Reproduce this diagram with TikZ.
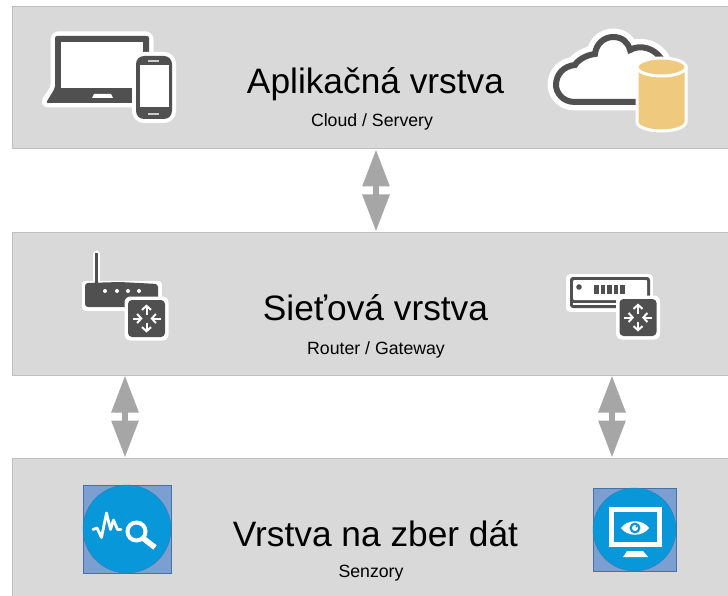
\documentclass[tikz,border=0pt]{standalone}
\usepackage{fontspec}
\setmainfont{Liberation Sans}
\usetikzlibrary{arrows.meta}
\definecolor{layerfill}{HTML}{D9D9D9}
\definecolor{layerline}{HTML}{BFBFBF}
\definecolor{linkgray}{HTML}{A6A6A6}
\definecolor{icondark}{HTML}{505050}
\definecolor{dbfill}{HTML}{EFC97E}
\definecolor{sensorblue}{HTML}{0897D8}
\definecolor{sensorsq}{HTML}{7B9FD0}
\definecolor{sensorline}{HTML}{4472A8}
\tikzset{
    layer/.style={draw=layerline, fill=layerfill, line width=1pt, minimum width=718pt, minimum height=142pt},
    title/.style={font=\fontsize{35.3}{40}\selectfont, inner sep=0pt},
    subtitle/.style={font=\fontsize{17.7}{20}\selectfont, inner sep=0pt},
    link/.style={{Triangle[length=37pt,width=26pt]}-{Triangle[length=37pt,width=26pt]}, draw=linkgray, line width=6pt},
    halo/.style={draw=white, line width=9pt, line join=round},
    badgearrow/.style={-{Straight Barb[length=4pt,width=9pt]}, draw=white, line width=2pt},
}
\begin{document}
\begin{tikzpicture}[x=1pt,y=-1pt]
    \useasboundingbox (0,0) rectangle (728,596);

    \node (app) [layer] at (371,78) {};
    \node (net) [layer, minimum height=143pt] at (371,303.5) {};
    \node (sense) [layer] at (371,529) {};

    \node (apptitle) [title] at (375.5,84) {Aplikačná vrstva};
    \node (appsub) [subtitle] at (372,122) {Cloud / Servery};
    \node (nettitle) [title] at (375.5,308) {Sieťová vrstva};
    \node (netsub) [subtitle] at (376,350) {Router / Gateway};
    \node (sensetitle) [title] at (375.5,534) {Vrstva na zber dát};
    \node (sensesub) [subtitle] at (371,573) {Senzory};

    \coordinate (midlink) at (376,0);
    \coordinate (leftlink) at (125,0);
    \coordinate (rightlink) at (612,0);
    \draw[link] (app.south -| midlink) -- (net.north -| midlink);
    \draw[link] (net.south -| leftlink) -- (sense.north -| leftlink);
    \draw[link] (net.south -| rightlink) -- (sense.north -| rightlink);

    % laptop
    \draw[halo] (55,88) -- (55,39) [rounded corners=3pt] -- (55,36) -- (149,36) -- (149,88) -- (155,103) -- (45,103) -- (55,88) -- cycle;
    \fill[icondark, rounded corners=2pt] (55,88) -- (55,36) -- (149,36) -- (149,88) -- (155,103) -- (46,103) -- cycle;
    \fill[white] (61,42) rectangle (143,88);
    \fill[white] (94,94) -- (111,94) -- (113,98) -- (92,98) -- cycle;

    % phone
    \draw[white, line width=8pt, fill=white, rounded corners=8pt] (136,56) rectangle (172,119);
    \fill[icondark, rounded corners=8pt] (136,56) rectangle (172,119);
    \fill[white] (140,65) rectangle (169,107);
    \fill[white!80!black] (148,60) rectangle (159,62);
    \fill[white!80!black] (148,113) rectangle (159,115);

    % cloud
    \def\cloudpath{(645,102) -- (575,102) .. controls (562,102) and (556,92) .. (556,85)
        .. controls (556,74) and (564,66) .. (575,65)
        .. controls (578,60) and (586,55) .. (595,54)
        .. controls (596,44) and (604,37) .. (613,37)
        .. controls (622,37) and (628,42) .. (630,50)
        .. controls (640,44) and (655,48) .. (662,60)}
    \draw[white, line width=17pt, line join=round, fill=white] \cloudpath -- cycle;
    \draw[icondark, line width=6pt, fill=white] \cloudpath;

    % database
    \draw[white, line width=3pt, fill=dbfill] (637,67) -- (637,122) arc[start angle=180, end angle=0, x radius=24.5, y radius=9] -- (686,67) -- cycle;
    \draw[white, line width=3pt, fill=dbfill] (661.5,67) ellipse (24.5 and 9);

    % router
    \draw[white, line width=7pt, line cap=round] (96.5,254) -- (96.5,284);
    \draw[halo, line width=7pt] (85,284) -- (158,284) -- (158,307) -- (85,307) -- cycle;
    \fill[icondark] (95,253) rectangle (98,283);
    \fill[icondark, rounded corners=3pt] (85,307) -- (85,283) -- (120,282) -- (158,284) -- (158,307) -- cycle;
    \foreach \dotx in {105,117,128,139}
        \fill[white] (\dotx,291) circle (2);

    % gateway
    \draw[halo, line width=8pt] (570,278) rectangle (649,308);
    \fill[icondark, rounded corners=3pt] (570,308) -- (570,277) -- (650,277) -- (650,308) -- cycle;
    \fill[white, rounded corners=1pt] (573,280) rectangle (647,300);
    \fill[white] (573,303) rectangle (647,305);
    \fill[icondark] (579,287) circle (2.8);
    \foreach \barx in {594,600.5,607,613.5,620}
        \fill[icondark] (\barx,285) rectangle ++(4.5,8.5);

    % routing badges
    \foreach \cx/\cy in {146.5/318.5,638/317.5} {
        \fill[white, rounded corners=6pt] (\cx-22,\cy-22) rectangle (\cx+22,\cy+22);
        \fill[icondark, rounded corners=4pt] (\cx-18.5,\cy-18.5) rectangle (\cx+18.5,\cy+18.5);
        \draw[badgearrow] (\cx,\cy-4) -- (\cx,\cy-14);
        \draw[badgearrow] (\cx,\cy+4) -- (\cx,\cy+14);
        \draw[badgearrow] (\cx-14,\cy) -- (\cx-4,\cy);
        \draw[badgearrow] (\cx+14,\cy) -- (\cx+4,\cy);
    }

    % sensor icons
    \draw[sensorline, fill=sensorsq] (83,485) rectangle (171,573);
    \draw[sensorline!80!sensorblue, fill=sensorblue] (127,529) circle (44);
    \draw[white, line width=2.8pt, line join=round, line cap=round] (93,529.5) -- (97,528) -- (101.5,537.5) -- (106.5,513) -- (110.5,529.5) -- (113.5,520) -- (117.5,529.5) -- (121,529.5);
    \draw[white, line width=4pt] (136.5,531.5) circle (9);
    \draw[white, line width=5.5pt] (143.5,538.5) -- (155,547.5);

    \draw[sensorline, fill=sensorsq] (593,488) rectangle (676,571);
    \draw[sensorline!80!sensorblue, fill=sensorblue] (634.5,529.5) circle (41.5);
    \draw[white, line width=5pt] (611.5,509.5) rectangle (659.5,544.5);
    \fill[white] (623,557) -- (648,557) -- (643,551) -- (627,551) -- cycle;
    \fill[white] (621,528) .. controls (627,519) and (643,519) .. (649,528) .. controls (643,537) and (627,537) .. (621,528) -- cycle;
    \fill[sensorblue] (635,528) circle (5.5);
    \fill[white] (635,528) circle (3);
    \fill[sensorblue] (636.5,526.5) circle (1.2);
\end{tikzpicture}
\end{document}
